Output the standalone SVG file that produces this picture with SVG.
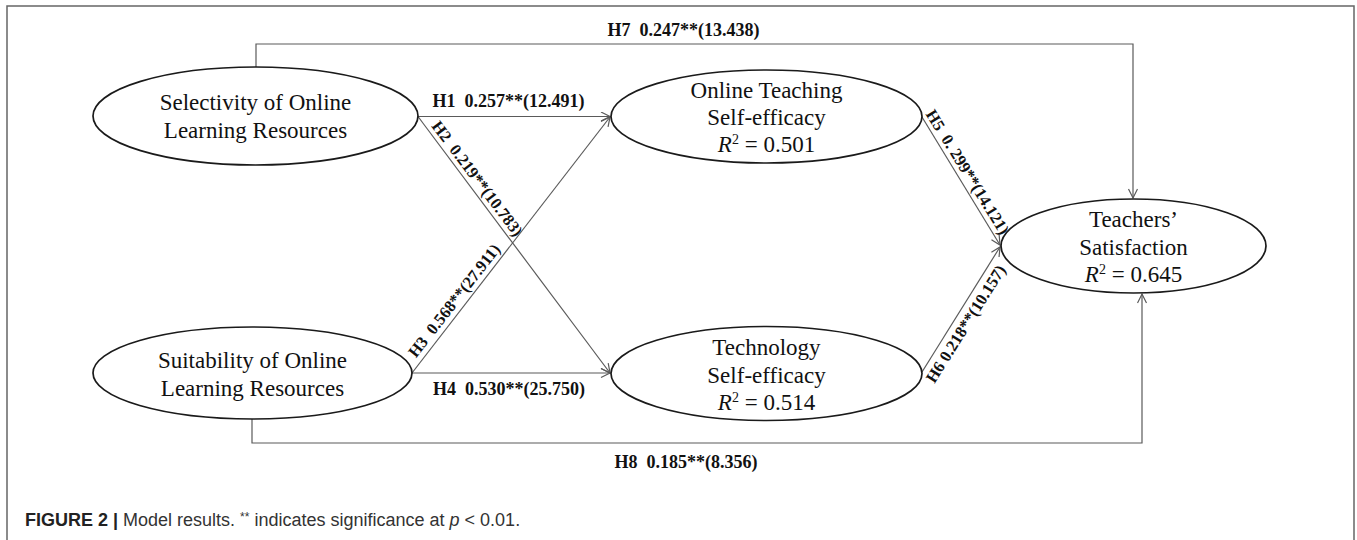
<svg xmlns="http://www.w3.org/2000/svg" width="1357" height="540" viewBox="0 0 1357 540">
  <style>
    .node ellipse { fill: #fff; stroke: #1a1a1a; stroke-width: 1.7; }
    .node text { font-family: "Liberation Serif", "Times New Roman", serif; font-size: 23px; fill: #111; text-anchor: middle; }
    .conn { fill: none; stroke: #5a5a5a; stroke-width: 1.2; }
    .lbl { font-family: "Liberation Serif", "Times New Roman", serif; font-weight: bold; font-size: 18px; fill: #111; text-anchor: middle; }
    .rlbl { font-family: "Liberation Serif", "Times New Roman", serif; font-weight: bold; font-size: 16.5px; fill: #111; text-anchor: middle; }
    .cap { font-family: "Liberation Sans", Arial, sans-serif; font-size: 18px; fill: #333; }
  </style>
  <defs>
    <marker id="arr" markerUnits="userSpaceOnUse" markerWidth="14" markerHeight="14" refX="10" refY="5" orient="auto">
      <path d="M1,0.5 L10,5 L1,9.5" fill="none" stroke="#5a5a5a" stroke-width="1.2"/>
    </marker>
  </defs>

  <rect x="0" y="0" width="1357" height="540" fill="#fff"/>
  <path d="M7,541 V6 H1354 V541" fill="none" stroke="#666" stroke-width="1.5"/>

  <g id="connectors">
    <path id="h7" class="conn" d="M256,67 V44 H1133 V198" marker-end="url(#arr)"/>
    <path id="h1" class="conn" d="M418,116.5 H610" marker-end="url(#arr)"/>
    <path id="h2" class="conn" d="M418,116.5 L610,373" marker-end="url(#arr)"/>
    <path id="h3" class="conn" d="M412,373 L610,117" marker-end="url(#arr)"/>
    <path id="h4" class="conn" d="M412,373 H610" marker-end="url(#arr)"/>
    <path id="h5" class="conn" d="M922,117 L1000,245" marker-end="url(#arr)"/>
    <path id="h6" class="conn" d="M922,372 L1000,247" marker-end="url(#arr)"/>
    <path id="h8" class="conn" d="M252,419 V443 H1142 V294" marker-end="url(#arr)"/>

    <text class="lbl" x="683.5" y="36">H7&#160; 0.247**(13.438)</text>
    <text class="lbl" x="508.5" y="107">H1&#160; 0.257**(12.491)</text>
    <text class="lbl" x="509" y="395">H4&#160; 0.530**(25.750)</text>
    <text class="lbl" x="686" y="468">H8&#160; 0.185**(8.356)</text>
    <text class="rlbl" transform="translate(473,182) rotate(53)">H2&#160; 0.219**(10.783)</text>
    <text class="rlbl" transform="translate(458.5,304) rotate(-52.1)">H3&#160; 0.568**(27.911)</text>
    <text class="rlbl" transform="translate(963,175) rotate(58.3)">H5&#160; 0. 299**(14.121)</text>
    <text class="rlbl" transform="translate(970.4,326.8) rotate(-57.9)">H6 0.218**(10.157)</text>
  </g>

  <g id="selectivity" class="node">
    <ellipse cx="255.5" cy="116" rx="162.5" ry="49"/>
    <text x="255.5" y="110">Selectivity of Online</text>
    <text x="255.5" y="138">Learning Resources</text>
  </g>

  <g id="suitability" class="node">
    <ellipse cx="252.5" cy="373" rx="159.5" ry="46"/>
    <text x="252.5" y="368">Suitability of Online</text>
    <text x="252.5" y="396">Learning Resources</text>
  </g>

  <g id="online-teaching" class="node">
    <ellipse cx="766.5" cy="116.5" rx="155.5" ry="46.5"/>
    <text x="766.5" y="98">Online Teaching</text>
    <text x="766.5" y="125">Self-efficacy</text>
    <text x="766.5" y="152"><tspan font-style="italic">R</tspan><tspan font-size="14" dy="-8">2</tspan><tspan dy="8"> = 0.501</tspan></text>
  </g>

  <g id="technology" class="node">
    <ellipse cx="766.5" cy="373.5" rx="155.5" ry="47"/>
    <text x="766.5" y="355">Technology</text>
    <text x="766.5" y="383">Self-efficacy</text>
    <text x="766.5" y="410"><tspan font-style="italic">R</tspan><tspan font-size="14" dy="-8">2</tspan><tspan dy="8"> = 0.514</tspan></text>
  </g>

  <g id="satisfaction" class="node">
    <ellipse cx="1133.5" cy="246" rx="132.5" ry="47"/>
    <text x="1133.5" y="227">Teachers’</text>
    <text x="1133.5" y="255">Satisfaction</text>
    <text x="1133.5" y="282"><tspan font-style="italic">R</tspan><tspan font-size="14" dy="-8">2</tspan><tspan dy="8"> = 0.645</tspan></text>
  </g>

  <text class="cap" x="25" y="526"><tspan font-weight="bold" fill="#222">FIGURE 2</tspan><tspan font-weight="bold" fill="#222"> | </tspan>Model results. <tspan font-size="12" dy="-5">**</tspan><tspan dy="5"> indicates significance at </tspan><tspan font-style="italic">p</tspan> &lt; 0.01.</text>
</svg>
